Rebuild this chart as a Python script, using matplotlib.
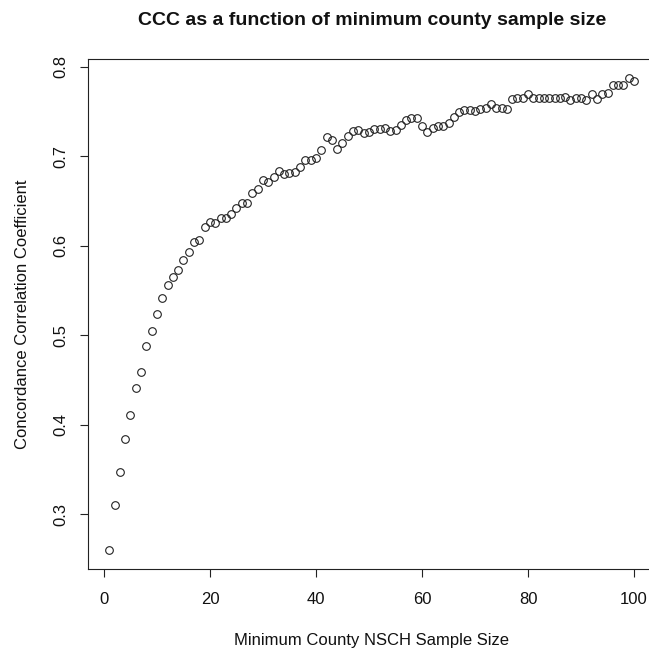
import matplotlib
matplotlib.use("Agg")
import matplotlib.pyplot as plt
import numpy as np

plt.rcParams['font.family'] = ['Liberation Sans', 'DejaVu Sans']

sample_size = list(range(1, 101))
ccc = [
    0.2597, 0.3097, 0.3467, 0.3843, 0.4105, 0.4411, 0.4594, 0.4874, 0.5049, 0.5232,
    0.5411, 0.5561, 0.5646, 0.5724, 0.5844, 0.5926, 0.6046, 0.6065, 0.6206, 0.6262,
    0.6259, 0.6307, 0.6307, 0.6352, 0.6419, 0.6483, 0.6483, 0.6591, 0.6636, 0.6737,
    0.6710, 0.6766, 0.6833, 0.6804, 0.6819, 0.6830, 0.6878, 0.6964, 0.6964, 0.6983,
    0.7076, 0.7220, 0.7184, 0.7085, 0.7151, 0.7224, 0.7281, 0.7290, 0.7256, 0.7274,
    0.7302, 0.7302, 0.7315, 0.7280, 0.7290, 0.7351, 0.7402, 0.7427, 0.7427, 0.7335,
    0.7267, 0.7315, 0.7344, 0.7344, 0.7370, 0.7437, 0.7493, 0.7520, 0.7520, 0.7505,
    0.7532, 0.7539, 0.7588, 0.7539, 0.7539, 0.7532, 0.7644, 0.7651, 0.7655, 0.7692,
    0.7655, 0.7651, 0.7651, 0.7651, 0.7651, 0.7651, 0.7662, 0.7625, 0.7651, 0.7651,
    0.7632, 0.7692, 0.7644, 0.7699, 0.7710, 0.7800, 0.7800, 0.7800, 0.7874, 0.7841,
]

title = "CCC as a function of minimum county sample size"
xlabel = "Minimum County NSCH Sample Size"
ylabel = "Concordance Correlation Coefficient"
xticks = [0, 20, 40, 60, 80, 100]
yticks = [0.3, 0.4, 0.5, 0.6, 0.7, 0.8]

W = H = 649
fig = plt.figure(figsize=(W / 100, H / 100), dpi=100)
left, right, bottom, top = 88.3, 655.0, 569.0, 59.3
ax = fig.add_axes([left / W, (H - bottom) / H, (right - left) / W, (bottom - top) / H])

ax.plot(sample_size, ccc, linestyle='none', marker='o', markersize=5.5,
        markerfacecolor='none', markeredgecolor='#222222', markeredgewidth=0.8)

xmin, xmax = min(sample_size), max(sample_size)
ymin, ymax = min(ccc), max(ccc)
ax.set_xlim(xmin - 0.04 * (xmax - xmin), xmax + 0.04 * (xmax - xmin))
ax.set_ylim(ymin - 0.04 * (ymax - ymin), ymax + 0.04 * (ymax - ymin))

ax.set_xticks(xticks)
ax.set_xticklabels([str(t) for t in xticks])
ax.set_yticks(yticks)
ax.set_yticklabels([f"{t:.1f}" for t in yticks], rotation=90, va='center')

for s in ax.spines.values():
    s.set_linewidth(0.8)
    s.set_color('#222222')

ax.tick_params(axis='both', direction='out', length=5.5, width=0.8, color='#222222',
               labelsize=12, labelcolor='#111111')
ax.tick_params(axis='x', pad=11)
ax.tick_params(axis='y', pad=8.5)

ax.set_title(title, fontsize=14, fontweight='bold', pad=24.5, color='#111111')
ax.set_xlabel(xlabel, fontsize=12, labelpad=18.5, color='#111111')
ax.set_ylabel(ylabel, fontsize=12, color='#111111')
ax.yaxis.set_label_coords(-(left - 30) / (right - left), 0.5)

fig.savefig("out.png", dpi=100)
